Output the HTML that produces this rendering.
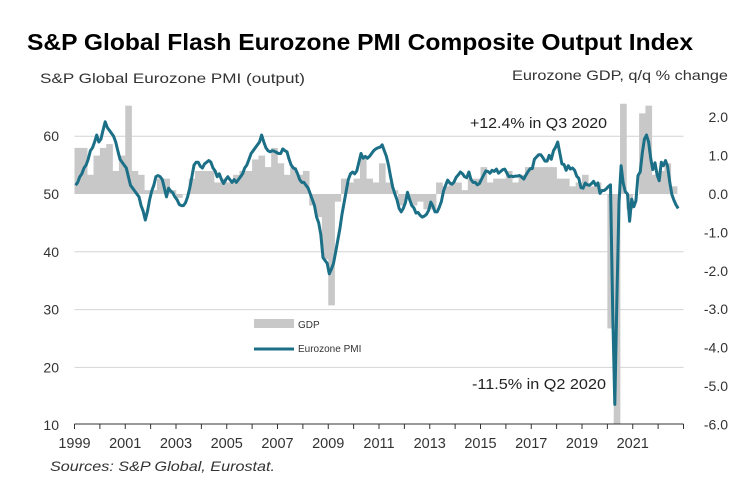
<!DOCTYPE html>
<html><head><meta charset="utf-8"><style>
body{margin:0;background:#fff;}
svg{display:block;font-family:"Liberation Sans",sans-serif;}
</style></head><body>
<svg id="chart" width="750" height="487" viewBox="0 0 750 487">
<text x="27" y="50" font-size="23" font-weight="bold" fill="#000" textLength="666" lengthAdjust="spacingAndGlyphs">S&amp;P Global Flash Eurozone PMI Composite Output Index</text>
<text x="40" y="83" font-size="14" fill="#333" textLength="265" lengthAdjust="spacingAndGlyphs">S&amp;P Global  Eurozone PMI (output)</text>
<text x="512" y="80" font-size="14" fill="#333" textLength="216" lengthAdjust="spacingAndGlyphs">Eurozone  GDP, q/q % change</text>
<g id="grid"></g><g id="bars"></g><g id="line"></g><g id="axes"></g>
<text x="470" y="128" font-size="15" fill="#222" textLength="137" lengthAdjust="spacingAndGlyphs">+12.4% in Q3 2020</text>
<text x="472" y="389" font-size="15" fill="#222" textLength="134" lengthAdjust="spacingAndGlyphs">-11.5% in Q2 2020</text>
<g>
<rect x="254" y="319" width="40" height="9" fill="#c8c8c8"/>
<text x="298" y="328" font-size="10" fill="#333">GDP</text>
<line x1="254" y1="349" x2="294" y2="349" stroke="#1b6f86" stroke-width="3"/>
<text x="298" y="352" font-size="10" fill="#333">Eurozone PMI</text>
</g>
<text x="50" y="471" font-size="14" font-style="italic" fill="#333" textLength="225" lengthAdjust="spacingAndGlyphs">Sources: S&amp;P Global, Eurostat.</text>
</svg>
<script>
const pmiStartYear = 1999;
const pmiValues = [
51.5,52,53,53.5,54.5,55,56,57.5,58,59,60.2,59,
59.5,61,62.5,61.5,61,60.5,60,59,57.5,56,55.5,55,
54.5,53,51.5,51,50.5,50,49.5,48,47,45.5,47,49,
50.5,51.5,53,53.2,53,52.5,51,49.5,51,50.5,50.2,49.5,
49,48.2,48,48,48.5,49.5,51,53,55,55.5,55.5,54.8,
54.5,55.2,55.5,55.8,55.5,54.5,54,53,53.5,52.5,51.8,52.5,
53,52.5,52,52.5,52,52.5,53,53.5,54.5,55,56,57,
57.5,58,58.5,59,60.2,59,58,57.5,57.3,57.5,57.4,57.2,
57,57,57.8,57.5,57.3,56,55,54.5,54.3,53.5,52.5,52,
52,51.5,51,50,49,48,46,45,43,39,38.5,38,
36.2,37,38,40,42,44,46.5,48.5,50.5,52.5,53.5,53.8,
53.5,54,55.5,57,56.2,56.5,56.2,56.5,57,57.5,57.8,58,
58.1,58.5,57.5,56.5,55,53,51.2,50,49,47.5,46.9,47.5,
48.5,50.3,49,48,47.6,46.7,46.8,46.3,46,46.2,46.5,47.2,
48.6,47.9,46.9,46.9,47.7,48.7,50.5,51.5,52.4,51.9,51.7,52.1,
52.9,53.3,53.8,53.5,53,52.8,53.8,52.5,52,52,51.6,51.8,
52.6,53.3,54,53.9,53.6,54.1,53.9,54.3,53.6,53.9,54.2,54.3,
53.6,53,53.1,53,53.1,53.1,53.2,52.9,52.6,53.3,53.9,54.4,
54.4,56,56.4,56.8,56.8,56.3,55.7,55.7,56.7,56,57.5,58.1,
59,57.1,55.2,55.1,54.1,54.9,54.3,54.5,54.1,53.1,52.7,51.1,
51,51.9,51.6,51.5,51.8,52.2,51.5,51.9,50.1,50.6,50.6,50.9,
51.3,51.6,29.7,13.6,31.9,48.5,54.9,51.9,50.4,50,45.3,49.1,
47.8,48.8,53.2,53.8,57.1,59.5,60.2,59,56.2,54.2,55.4,53.3,
52.3,55.5,54.9,55.8,54.8,52,49.9,48.9,48.1,47.5
];
const gdpValues = [
1.2,1.2,0.5,1.0, 1.2,1.3,0.6,1.0, 2.3,0.6,0.5,0.1, 0.1,0.4,0.4,0.1,
-0.1,0.0,0.4,0.6, 0.6,0.6,0.3,0.4, 0.3,0.5,0.6,0.6, 0.9,1.0,0.7,1.2,
0.8,0.5,0.7,0.5, 0.6,-0.3,-0.6,-1.7, -2.9,-0.2,0.4,0.3, 0.4,1.0,0.4,0.3,
0.8,0.3,0.1,-0.3, -0.1,-0.3,-0.2,-0.4, -0.4,0.3,0.2,0.3, 0.3,0.1,0.4,0.4,
0.7,0.3,0.4,0.4, 0.6,0.3,0.5,0.7, 0.7,0.7,0.7,0.7, 0.4,0.4,0.2,0.3,
0.5,0.2,0.3,0.0, -3.5,-11.5,12.4,-0.4, 0.0,2.1,2.3,0.5, 0.6,0.8,0.2
];
const pmiTicks = [10,20,30,40,50,60];
const gdpTicks = ["2.0","1.0","0.0","-1.0","-2.0","-3.0","-4.0","-5.0","-6.0"];
const yearLabels = [1999,2001,2003,2005,2007,2009,2011,2013,2015,2017,2019,2021];

const NS="http://www.w3.org/2000/svg";
const X0=74.5,X1=683.5,T0=1999,T1=2023;
const xS=t=>X0+(t-T0)*(X1-X0)/(T1-T0);
const yP=v=>194-(v-50)*5.78;
const yG=g=>194-g*38.4;
const GMIN=-6,GMAX=2.35;
function mk(tag,attrs,parent){const e=document.createElementNS(NS,tag);for(const k in attrs)e.setAttribute(k,attrs[k]);parent.appendChild(e);return e;}
const grid=document.getElementById('grid'),bars=document.getElementById('bars'),line=document.getElementById('line'),axes=document.getElementById('axes');
pmiTicks.forEach(v=>{
  if(v!==10&&v!==50){const l=mk('line',{x1:X0,x2:X1,y1:yP(v),y2:yP(v),stroke:'#d4d4d4','stroke-width':1},grid);
  
  }
  const t=mk('text',{x:59,y:yP(v)+5,'font-size':14,fill:'#333','text-anchor':'end'},axes);t.textContent=v;
  
  
});
gdpTicks.forEach(s=>{
  const t=mk('text',{x:728,y:yG(parseFloat(s))+5,'font-size':14,fill:'#333','text-anchor':'end'},axes);t.textContent=s;
  
  
});
const qw=(X1-X0)/(T1-T0)/4;
gdpValues.forEach((g,i)=>{
  const t=T0+i/4;const gc=Math.max(GMIN,Math.min(GMAX,g));
  const y1=Math.min(yG(0),yG(gc)),h=Math.abs(yG(gc)-yG(0));
  const r=mk('rect',{x:xS(t),y:y1,width:qw+0.3,height:Math.max(h,0.5),fill:'#c8c8c8'},bars);
  
  
});
const pts=pmiValues.map((v,i)=>xS(pmiStartYear+(i+0.5)/12).toFixed(1)+','+yP(v).toFixed(1)).join(' ');
const pl=mk('polyline',{points:pts,fill:'none',stroke:'#1b6f86','stroke-width':3,'stroke-linejoin':'round'},line);


const ax=mk('line',{x1:X0,x2:X1,y1:424,y2:424,stroke:'#333','stroke-width':1},axes);


for(let yr=T0;yr<=T1;yr++){
  const tk=mk('line',{x1:xS(yr),x2:xS(yr),y1:424,y2:429,stroke:'#333'},axes);
  
  
}
yearLabels.forEach(yr=>{
  const t=mk('text',{x:xS(yr),y:448,'font-size':14.5,fill:'#333','text-anchor':'middle'},axes);t.textContent=yr;
  
  
});
</script>
</body></html>
